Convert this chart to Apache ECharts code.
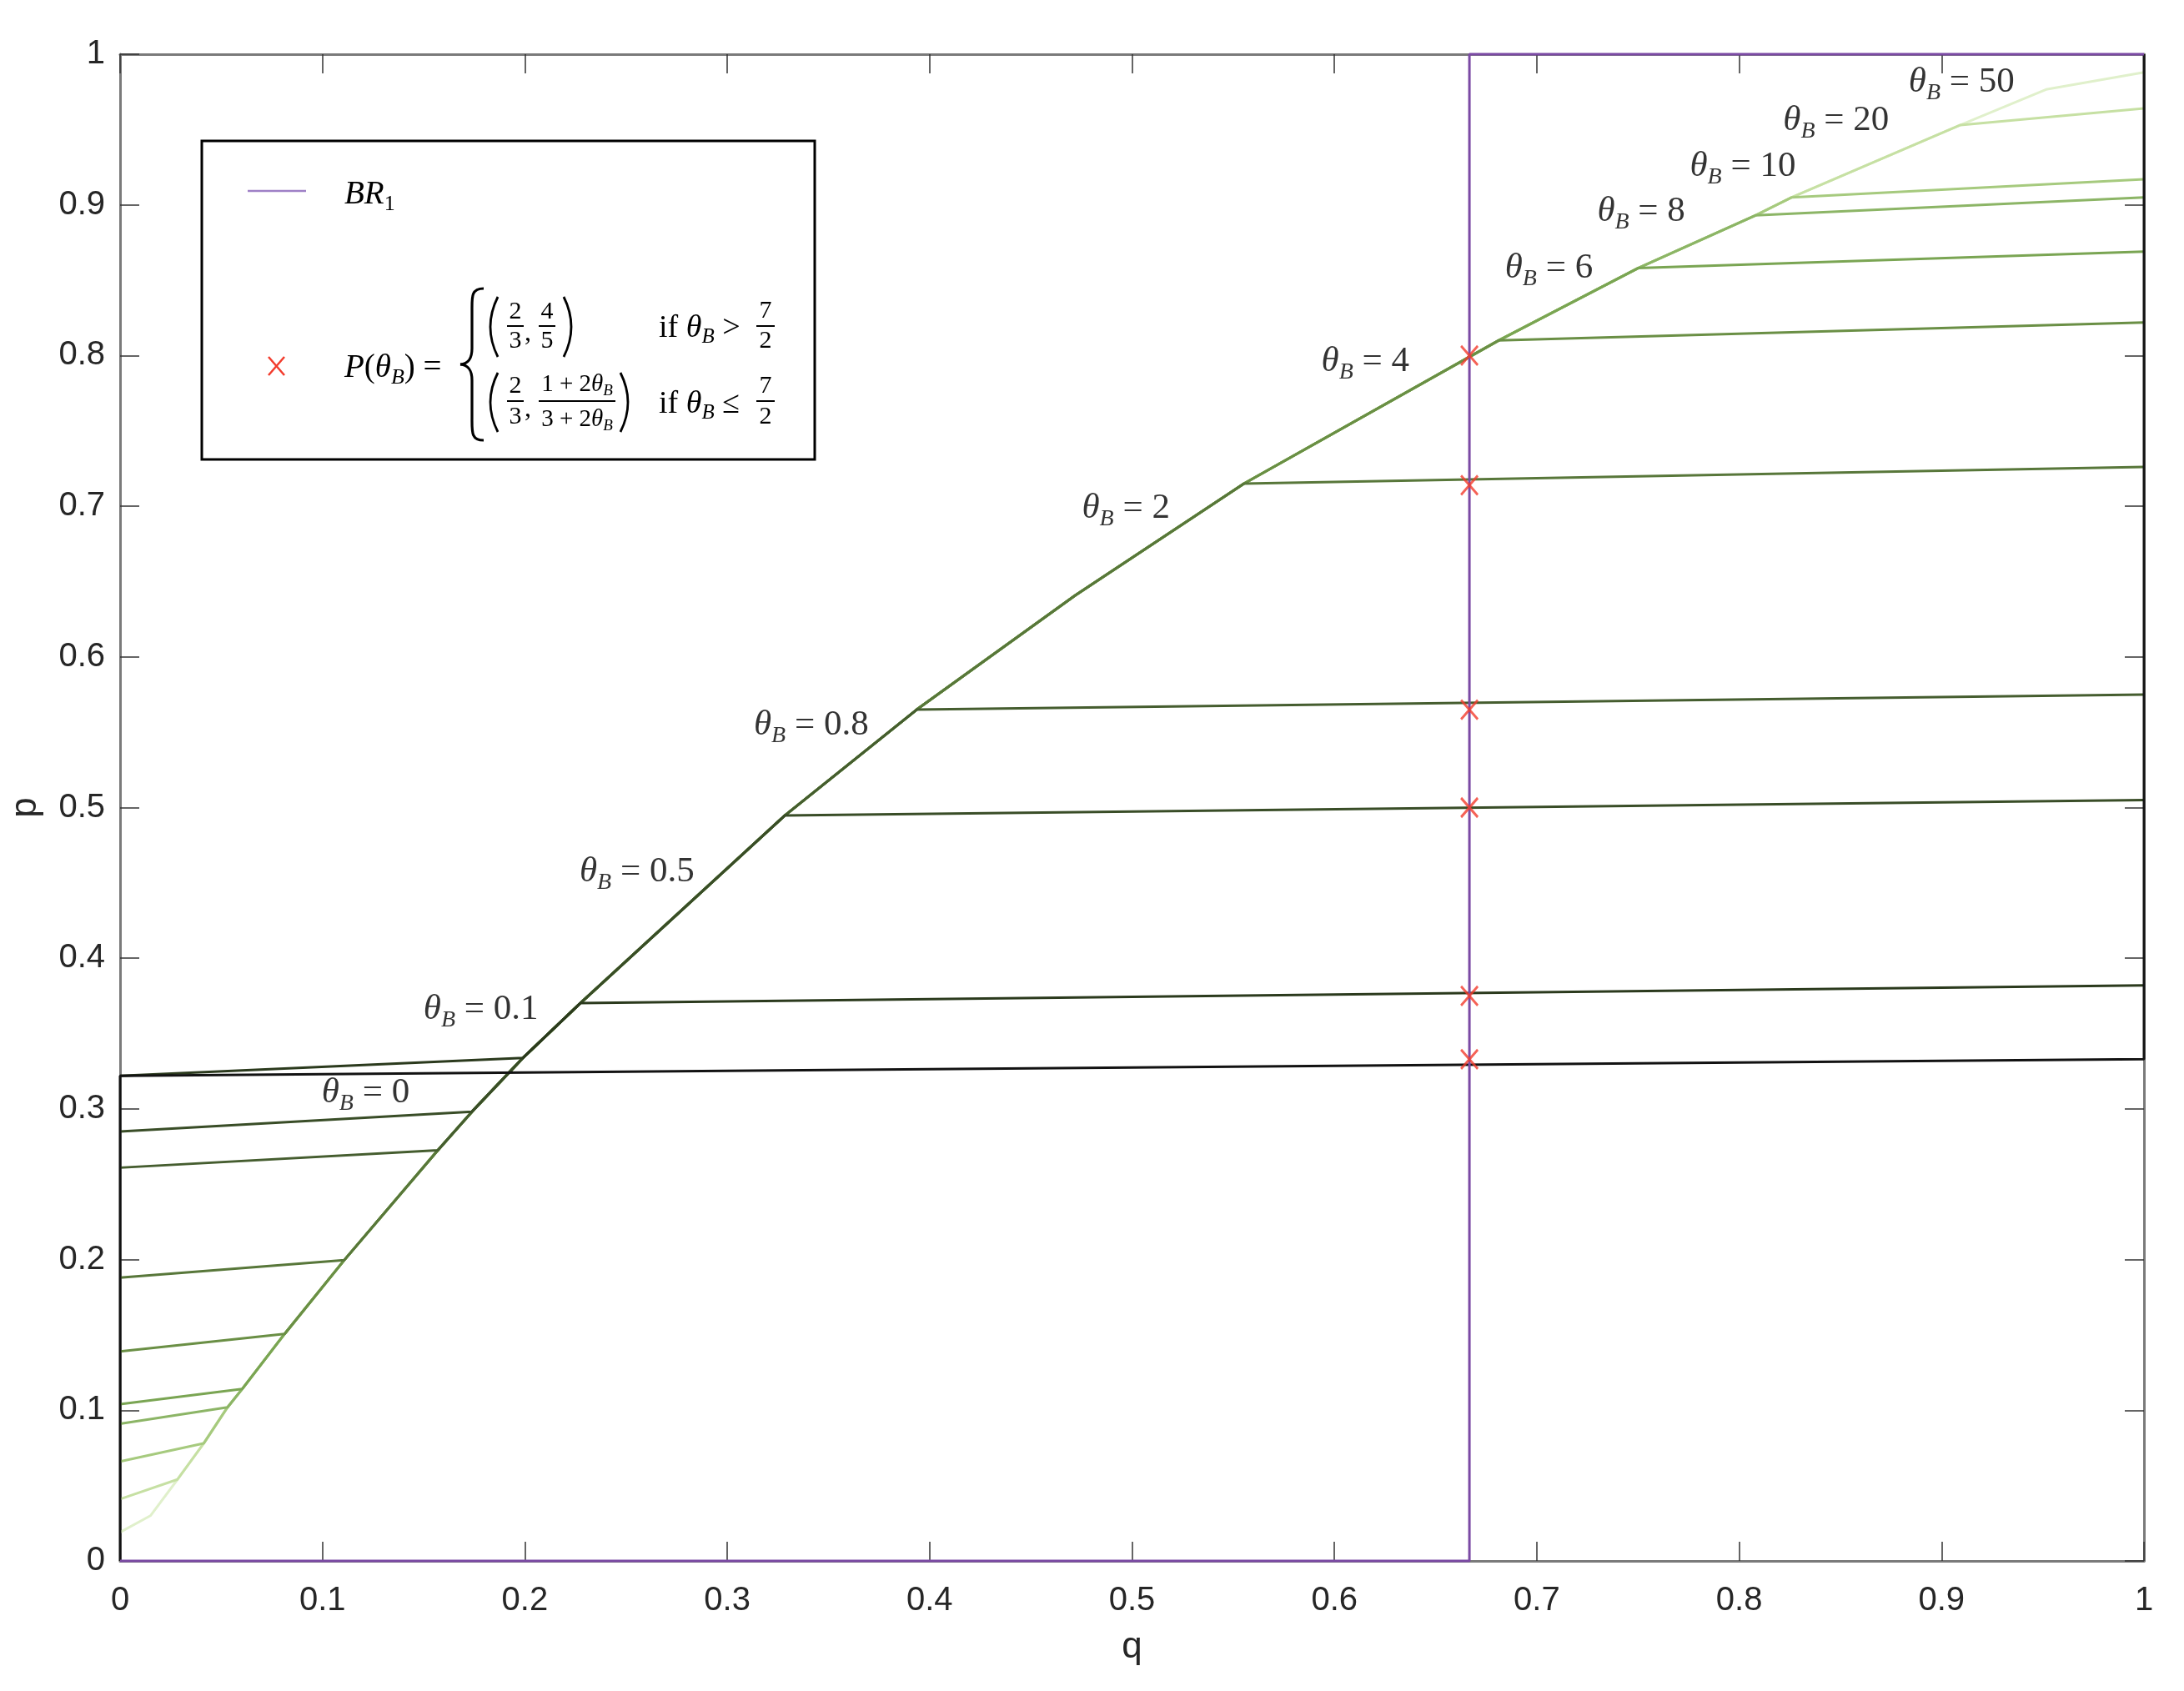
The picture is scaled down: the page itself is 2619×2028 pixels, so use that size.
<!DOCTYPE html>
<html><head><meta charset="utf-8">
<script src="https://cdn.jsdelivr.net/npm/echarts@6/dist/echarts.min.js"></script>
<style>html,body{margin:0;padding:0;background:#fff}#c{width:2619px;height:2028px}</style>
</head><body><div id="c"></div>
<script>
// ---------- data ----------
const thetaNames = ['0', '0.1', '0.5', '0.8', '2', '4', '6', '8', '10', '20', '50'];
const leftStartP = [0.322, 0.322, 0.285, 0.261, 0.188, 0.139, 0.104, 0.091, 0.066, 0.041, 0.019];
const rightEndP  = [0.333, 0.382, 0.505, 0.575, 0.726, 0.822, 0.869, 0.905, 0.917, 0.964, 0.988];
// shared ridge curve that the trajectories follow
const curveQ = [0.0150, 0.0284, 0.0413, 0.0531, 0.0604, 0.0813, 0.1108, 0.1570, 0.1739, 0.1991, 0.2274,
                0.3284, 0.3936, 0.4718, 0.5553, 0.6811, 0.7500, 0.8080, 0.8260, 0.9093, 0.9516];
const curveP = [0.0300, 0.0541, 0.0780, 0.1020, 0.1142, 0.1507, 0.1997, 0.2725, 0.2982, 0.3339, 0.3702,
                0.4947, 0.5650, 0.6407, 0.7150, 0.8100, 0.8580, 0.8930, 0.9050, 0.9530, 0.9766];
const entryIdx = [null, 9, 8, 7, 6, 5, 4, 3, 2, 1, 0];
const exitIdx  = [null, 10, 11, 12, 14, 15, 16, 17, 18, 19, 20];
const zeroEdgeStart = [0, 0];
const zeroEdgeEnd = [1, 1];
const lineColors = ['#121212', '#2b3a1d', '#394d27', '#455d2f', '#58773a', '#6a8f45', '#7aa553',
                    '#8cb566', '#a6ca7e', '#c6e0a3', '#e0f0cb'];
// BR_1 best response
const brQ = [0, 0.6667, 0.6667, 1];
const brP = [0, 0, 1, 1];
// equilibrium points P(theta_B)
const eqQ = [0.6667, 0.6667, 0.6667, 0.6667, 0.6667, 0.6667];
const eqP = [0.333, 0.375, 0.500, 0.565, 0.714, 0.800];
// curve label anchor positions
const labelQ = [0.1213, 0.1783, 0.2554, 0.3415, 0.4970, 0.6153, 0.7060, 0.7516, 0.8018, 0.8479, 0.9099];
const labelP = [0.3105, 0.3658, 0.4571, 0.5545, 0.6984, 0.7958, 0.8578, 0.8954, 0.9253, 0.9557, 0.9812];

// ---------- build ----------
function traj(i) {
  const pts = [];
  if (entryIdx[i] === null) {
    pts.push(zeroEdgeStart, [0, leftStartP[i]], [1, rightEndP[i]], zeroEdgeEnd);
    return pts;
  }
  pts.push([0, leftStartP[i]]);
  for (let k = entryIdx[i]; k <= exitIdx[i]; k++) pts.push([curveQ[k], curveP[k]]);
  pts.push([1, rightEndP[i]]);
  return pts;
}

const series = [];
for (let i = thetaNames.length - 1; i >= 0; i--) {
  series.push({
    type: 'line', name: 'theta ' + thetaNames[i], data: traj(i), showSymbol: false, clip: false,
    lineStyle: { color: lineColors[i], width: 3 }, silent: true, animation: false
  });
}
series.push({
  type: 'line', name: 'BR1', data: brQ.map((q, i) => [q, brP[i]]), showSymbol: false, clip: false,
  lineStyle: { color: '#7b4aa4', width: 3 }, silent: true, animation: false
});
series.push({
  type: 'scatter', name: 'P', data: eqQ.map((q, i) => [q, eqP[i]]),
  symbol: 'path://M0,0L10,11M10,0L0,11', symbolSize: [20, 23],
  itemStyle: { color: 'rgba(0,0,0,0)', borderColor: '#f23b2c', borderWidth: 3 },
  silent: true, animation: false, z: 5
});
const serif = 'Liberation Serif';
const noBorder = { textBorderWidth: 0, textBorderColor: 'transparent', textShadowBlur: 0 };
series.push({
  type: 'scatter', name: 'labels', data: labelQ.map((q, i) => ({ value: [q, labelP[i]], name: thetaNames[i] })),
  symbolSize: 2, itemStyle: { color: 'rgba(255,255,255,0)' }, silent: true, animation: false, z: 6,
  label: Object.assign({
    show: true, position: 'inside', color: '#000',
    formatter: p => '{t|θ}{s|B}{n| = ' + p.name + '}',
    rich: {
      t: Object.assign({ fontSize: 43, fontStyle: 'italic', fontFamily: serif, color: '#000', lineHeight: 44 }, noBorder),
      s: Object.assign({ fontSize: 28, fontStyle: 'italic', fontFamily: serif, color: '#000', lineHeight: 28, padding: [25, 0, 0, 0] }, noBorder),
      n: Object.assign({ fontSize: 43, fontFamily: serif, color: '#000', lineHeight: 44 }, noBorder)
    }
  }, noBorder)
});

// ---------- legend graphic ----------
const G = [];
function txt(x, y, text, size, opts) {
  opts = opts || {};
  G.push({ type: 'text', x: x, y: y, z: 102, silent: true, style: Object.assign({
    text: text, fontSize: size, fontFamily: serif, fill: '#000',
    align: opts.align || 'center', verticalAlign: 'middle'
  }, opts.style || {}) });
}
function seg(x1, y1, x2, y2, color, w) {
  G.push({ type: 'line', z: 102, silent: true, shape: { x1, y1, x2, y2 }, style: { stroke: color, lineWidth: w } });
}
function bez(x1, y1, cpx1, cpy1, cpx2, cpy2, x2, y2, w) {
  const shape = { x1, y1, x2, y2, cpx1, cpy1 };
  if (cpx2 !== null) { shape.cpx2 = cpx2; shape.cpy2 = cpy2; }
  G.push({ type: 'bezierCurve', z: 102, silent: true, shape: shape, style: { stroke: '#000', fill: null, lineWidth: w } });
}
function frac(cx, yNum, yBar, yDen, num, den, half, size) {
  txt(cx, yNum, num, size);
  seg(cx - half, yBar, cx + half, yBar, '#000', 2);
  txt(cx, yDen, den, size);
}
function paren(x, yT, yB, left) {
  const m = (yT + yB) / 2;
  if (left) bez(x + 7, yT, x - 11, m, null, null, x + 7, yB, 2.8);
  else bez(x - 7, yT, x + 11, m, null, null, x - 7, yB, 2.8);
}
G.push({ type: 'rect', z: 100, silent: true, shape: { x: 242, y: 169, width: 735, height: 382 },
  style: { fill: '#fff', stroke: '#000', lineWidth: 3 } });
seg(297, 229, 367, 229, '#9e80c6', 2.5);
const richMath = {
  a: { fontSize: 39, fontFamily: serif, fontStyle: 'italic', fill: '#000', lineHeight: 40 },
  u: { fontSize: 39, fontFamily: serif, fill: '#000', lineHeight: 40 },
  b: { fontSize: 26, fontFamily: serif, fontStyle: 'italic', fill: '#000', lineHeight: 26, padding: [22, 0, 0, 0] },
  c: { fontSize: 26, fontFamily: serif, fill: '#000', lineHeight: 26, padding: [22, 0, 0, 0] }
};
G.push({ type: 'text', x: 413, y: 234, z: 102, silent: true,
  style: { text: '{a|BR}{c|1}', rich: richMath, align: 'left', verticalAlign: 'middle' } });
seg(322, 428, 341, 450, '#f23b2c', 2.5);
seg(341, 428, 322, 450, '#f23b2c', 2.5);
G.push({ type: 'text', x: 413, y: 442, z: 102, silent: true,
  style: { text: '{a|P}{u|(}{a|θ}{b|B}{u|) =}', rich: richMath, align: 'left', verticalAlign: 'middle' } });
// brace
bez(580, 346, 565, 346, 566, 356, 566, 372, 3.2);
seg(566, 372, 566, 418, '#000', 3.2);
bez(566, 418, 566, 430, 562, 436, 552, 437, 3.2);
bez(552, 437, 562, 438, 566, 444, 566, 456, 3.2);
seg(566, 456, 566, 502, '#000', 3.2);
bez(566, 502, 566, 518, 565, 528, 580, 528, 3.2);
// upper row
paren(590, 356, 428, true);
frac(618, 374, 391, 409, '2', '3', 10, 30);
txt(633, 400, ',', 32);
frac(656, 374, 391, 409, '4', '5', 10, 30);
paren(683, 356, 428, false);
const richIf = {
  a: { fontSize: 38, fontFamily: serif, fontStyle: 'italic', fill: '#000', lineHeight: 40 },
  u: { fontSize: 38, fontFamily: serif, fill: '#000', lineHeight: 40 },
  b: { fontSize: 25, fontFamily: serif, fontStyle: 'italic', fill: '#000', lineHeight: 25, padding: [21, 0, 0, 0] }
};
G.push({ type: 'text', x: 790, y: 394, z: 102, silent: true,
  style: { text: '{u|if }{a|θ}{b|B}{u| >}', rich: richIf, align: 'left', verticalAlign: 'middle' } });
frac(918, 373, 391, 409, '7', '2', 11, 30);
// lower row
paren(590, 447, 518, true);
frac(618, 463, 481, 500, '2', '3', 10, 30);
txt(633, 491, ',', 32);
const richSmall = {
  u: { fontSize: 29, fontFamily: serif, fill: '#000', lineHeight: 30 },
  a: { fontSize: 29, fontFamily: serif, fontStyle: 'italic', fill: '#000', lineHeight: 30 },
  b: { fontSize: 19, fontFamily: serif, fontStyle: 'italic', fill: '#000', lineHeight: 19, padding: [15, 0, 0, 0] }
};
G.push({ type: 'text', x: 692, y: 461, z: 102, silent: true,
  style: { text: '{u|1 + 2}{a|θ}{b|B}', rich: richSmall, align: 'center', verticalAlign: 'middle' } });
seg(646, 481, 738, 481, '#000', 2);
G.push({ type: 'text', x: 692, y: 503, z: 102, silent: true,
  style: { text: '{u|3 + 2}{a|θ}{b|B}', rich: richSmall, align: 'center', verticalAlign: 'middle' } });
paren(751, 447, 518, false);
G.push({ type: 'text', x: 790, y: 485, z: 102, silent: true,
  style: { text: '{u|if }{a|θ}{b|B}{u| ≤}', rich: richIf, align: 'left', verticalAlign: 'middle' } });
frac(918, 463, 481, 500, '7', '2', 11, 30);

// ---------- axes ----------
const sans = 'Liberation Sans';
const axisLineStyle = { color: '#7a7a7a', width: 3 };
const tickStyle = { show: true, inside: true, length: 23, lineStyle: { color: '#333', width: 1.5 } };
function valAxis(pos, showLabel, name) {
  const isX = pos === 'bottom' || pos === 'top';
  return {
    type: 'value', position: pos, min: 0, max: 1, interval: 0.1,
    axisLine: { show: true, onZero: false, lineStyle: axisLineStyle },
    axisTick: tickStyle,
    splitLine: { show: false },
    axisLabel: { show: showLabel, fontFamily: sans, fontSize: 40, color: '#262626', margin: isX ? 28 : 18 },
    name: name || '', nameLocation: 'middle',
    nameGap: isX ? 82 : 91,
    nameTextStyle: { fontFamily: sans, fontSize: 44, color: '#262626' }
  };
}

const chart = echarts.init(document.getElementById('c'), null, { renderer: 'canvas' });
chart.setOption({
  animation: false,
  backgroundColor: '#fff',
  grid: { left: 144, right: 48, top: 65, bottom: 156, containLabel: false, outerBoundsMode: 'none' },
  xAxis: [valAxis('bottom', true, 'q'), valAxis('top', false)],
  yAxis: [valAxis('left', true, 'p'), valAxis('right', false)],
  series: series,
  graphic: G
});
</script></body></html>
